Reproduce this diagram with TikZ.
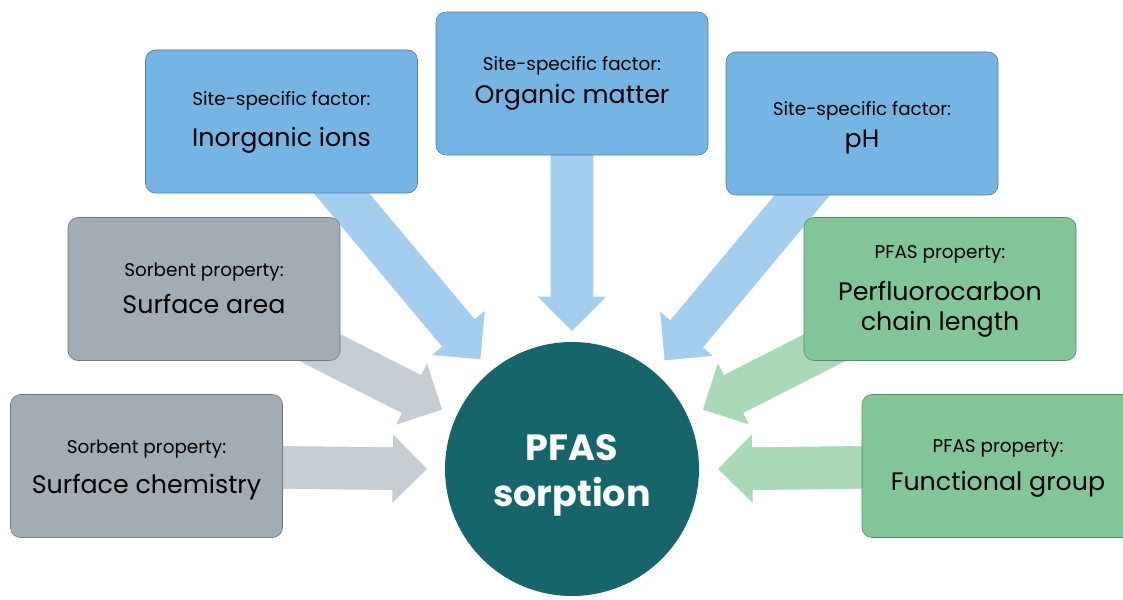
\documentclass[tikz,border=0pt]{standalone}
\usepackage{fontspec}
\setmainfont{Poppins}
\usetikzlibrary{calc}
\definecolor{boxblue}{HTML}{75B5E3}
\definecolor{arrblue}{HTML}{A4CEEF}
\definecolor{boxgrey}{HTML}{A2ACB4}
\definecolor{arrgrey}{HTML}{C6CDD2}
\definecolor{boxgreen}{HTML}{82C596}
\definecolor{arrgreen}{HTML}{A9D9B7}
\definecolor{circcol}{HTML}{14666B}
\newcommand\blockarrow[3]{%
  \coordinate (#2-b) at ($(#2)!36pt!(#1.center)$);
  \filldraw[fill=#3, draw=white, line width=1.2pt, line join=miter]
    ($(#1.center)!22pt!90:(#2)$) -- ($(#2-b)!22pt!-90:(#1.center)$) --
    ($(#2-b)!36pt!-90:(#1.center)$) -- (#2) --
    ($(#2-b)!36pt!90:(#1.center)$) -- ($(#2-b)!22pt!90:(#1.center)$) --
    ($(#1.center)!22pt!-90:(#2)$) -- cycle;}
\tikzset{
  box/.style={rounded corners=10pt, minimum width=272pt, minimum height=143pt, line width=0.6pt, inner sep=0pt},
  bluebox/.style={box, fill=boxblue, draw=boxblue!70!black},
  greybox/.style={box, fill=boxgrey, draw=boxgrey!70!black},
  greenbox/.style={box, fill=boxgreen, draw=boxgreen!70!black},
  lbl/.style={anchor=base, inner sep=0pt, font=\fontsize{18.4}{20}\selectfont},
  ttl/.style={anchor=base, inner sep=0pt, font=\fontsize{25.3}{30}\selectfont},
  ctr/.style={anchor=base, inner sep=0pt, text=white, font=\bfseries\fontsize{36.5}{46}\selectfont}
}
\begin{document}
\begin{tikzpicture}[x=1pt,y=-1pt]
\useasboundingbox (0,0) rectangle (1123,599);
\clip (0,0) rectangle (1123,599);
% box positions
\path (281.5,121.5) coordinate (pinorg)
      (572,83.5) coordinate (porg)
      (862,123.5) coordinate (pph)
      (204,289) coordinate (psarea)
      (146.5,466) coordinate (pschem)
      (940,289) coordinate (pperf)
      (998,466) coordinate (pfunc);
% tips
\coordinate (tinorg) at (481,360);
\coordinate (torg) at (572,332);
\coordinate (tph) at (664,361);
\coordinate (tsarea) at (443,410);
\coordinate (tschem) at (428,469);
\coordinate (tperf) at (702,410);
\coordinate (tfunc) at (717,469);
% arrows
\blockarrow{psarea}{tsarea}{arrgrey}
\blockarrow{pschem}{tschem}{arrgrey}
\blockarrow{pperf}{tperf}{arrgreen}
\blockarrow{pfunc}{tfunc}{arrgreen}
\blockarrow{pinorg}{tinorg}{arrblue}
\blockarrow{porg}{torg}{arrblue}
\blockarrow{pph}{tph}{arrblue}
% circle
\node[circle, fill=circcol, minimum size=254pt, inner sep=0pt] (core) at (572,469) {};
\node[ctr] (core1) at (572,460) {PFAS};
\node[ctr] (core2) at (572,506) {sorption};
% boxes
\node[bluebox] (inorg) at (pinorg) {};
\node[bluebox] (org) at (porg) {};
\node[bluebox] (ph) at (pph) {};
\node[greybox] (sarea) at (psarea) {};
\node[greybox] (schem) at (pschem) {};
\node[greenbox] (perf) at (pperf) {};
\node[greenbox] (func) at (pfunc) {};
% texts
\node[lbl] (inorg-l) at (281.5,106) {Site-specific factor:};
\node[ttl] (inorg-t) at (281.5,146) {Inorganic ions};
\node[lbl] (org-l) at (572,71) {Site-specific factor:};
\node[ttl] (org-t) at (572,103) {Organic matter};
\node[lbl] (ph-l) at (862,116) {Site-specific factor:};
\node[ttl] (ph-t) at (862,147) {pH};
\node[lbl] (sarea-l) at (204,276) {Sorbent property:};
\node[ttl] (sarea-t) at (204,313) {Surface area};
\node[lbl] (perf-l) at (940,258) {PFAS property:};
\node[ttl] (perf-t1) at (940,300) {Perfluorocarbon};
\node[ttl] (perf-t2) at (940,330) {chain length};
\node[lbl] (schem-l) at (146.5,453) {Sorbent property:};
\node[ttl] (schem-t) at (146.5,493) {Surface chemistry};
\node[lbl] (func-l) at (998,452) {PFAS property:};
\node[ttl] (func-t) at (998,490) {Functional group};
\end{tikzpicture}
\end{document}
